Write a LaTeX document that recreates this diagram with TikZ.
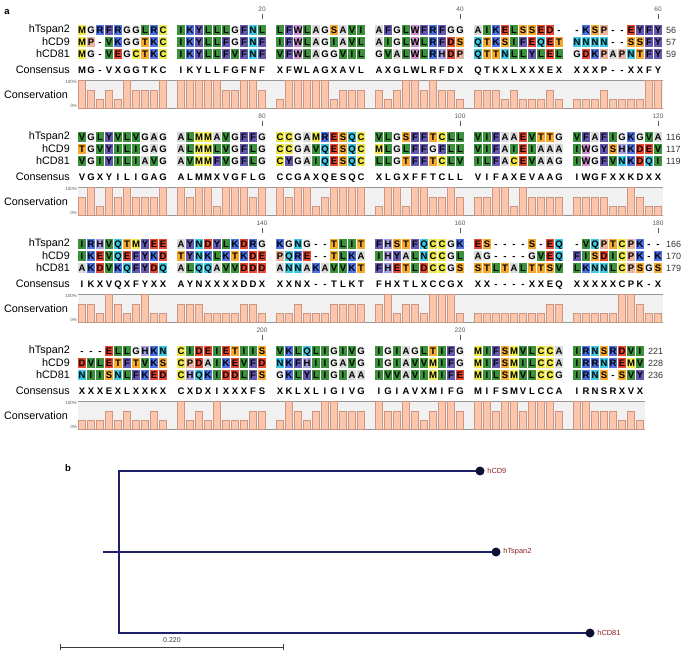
\documentclass[tikz,border=0pt]{standalone}
\usepackage{fontspec}
\setmainfont{Liberation Sans}
\usepackage{xstring}
\usetikzlibrary{positioning}

% residue colours (faded RasMol scheme)
\definecolor{resI}{RGB}{60,145,60}\colorlet{resL}{resI}\colorlet{resV}{resI}
\definecolor{resF}{RGB}{100,88,175}\colorlet{resY}{resF}
\definecolor{resK}{RGB}{80,115,225}\colorlet{resR}{resK}
\definecolor{resD}{RGB}{228,72,48}\colorlet{resE}{resD}
\definecolor{resS}{RGB}{245,170,45}\colorlet{resT}{resS}
\definecolor{resC}{RGB}{238,232,70}\colorlet{resM}{resC}
\definecolor{resN}{RGB}{60,200,225}\colorlet{resQ}{resN}
\definecolor{resW}{RGB}{200,140,200}
\definecolor{resP}{RGB}{232,180,160}
\definecolor{resH}{RGB}{165,160,220}
\definecolor{resA}{RGB}{218,218,218}
\definecolor{resG}{RGB}{240,240,240}
\definecolor{barfill}{RGB}{252,198,172}
\definecolor{bardraw}{RGB}{205,150,130}
\definecolor{bandgray}{RGB}{241,241,241}
\definecolor{bandedge}{RGB}{150,150,150}
\definecolor{rulergray}{RGB}{90,90,90}
\definecolor{numgray}{RGB}{50,50,50}
\definecolor{treeblue}{RGB}{32,32,105}
\definecolor{leafdot}{RGB}{12,16,52}
\definecolor{leafred}{RGB}{140,32,32}
\definecolor{scalegray}{RGB}{60,60,60}

% one coloured residue: x, y, letter, node name
\newcommand{\rescell}[4]{%
  \if#3-\else
    \edef\rescol{res#3}%
    \fill[fill=\rescol] (#1-4.15,#2-5.2) rectangle (#1+4.15,#2+5.2);
  \fi
  \node[resletter] (#4) at (#1,#2) {#3};
}

% one alignment block: top, columns, hTspan2, hCD9, hCD81, consensus, ruler, end numbers, id
\newcommand{\alnblock}[9]{%
  \pgfmathsetmacro\lastx{82+9*(#2-1+floor((#2-1)/10))}
  \node[seqname] (tsp#9) at (70,#1+21) {hTspan2};
  \node[seqname] (cdn#9) at (70,#1+33) {hCD9};
  \node[seqname] (cde#9) at (70,#1+45) {hCD81};
  \node[seqname] (csn#9) at (70,#1+61) {Consensus};
  \node[seqname] (csv#9) at (68,#1+86) {Conservation};
  % conservation band
  \fill[bandgray] (77.5,#1+71) rectangle (\lastx+4.5,#1+99);
  \draw[bandline] (77.5,#1+71) -- (\lastx+4.5,#1+71);
  \draw[bandline] (77.5,#1+99) -- (\lastx+4.5,#1+99);
  \node[pctlabel, anchor=north east] (hi#9) at (77,#1+71.5) {100\%};
  \node[pctlabel, anchor=south east] (lo#9) at (77,#1+98.5) {0\%};
  % ruler
  \foreach \tc/\tl in {#7}{
    \pgfmathsetmacro\tx{82+9*(\tc-1+floor((\tc-1)/10))}
    \draw[ruler] (\tx,#1+5) -- (\tx,#1+10);
    \node[rulerlabel] (tk#9-\tc) at (\tx,#1) {\tl};
  }
  % residues, consensus and bars
  \foreach \c in {1,...,#2}{
    \pgfmathsetmacro\cx{82+9*(\c-1+floor((\c-1)/10))}
    \StrChar{#3}{\c}[\rT]
    \StrChar{#4}{\c}[\rA]
    \StrChar{#5}{\c}[\rB]
    \StrChar{#6}{\c}[\rC]
    \rescell{\cx}{#1+21}{\rT}{r#9t\c}
    \rescell{\cx}{#1+33}{\rA}{r#9a\c}
    \rescell{\cx}{#1+45}{\rB}{r#9b\c}
    \node[resletter] (r#9c\c) at (\cx,#1+61) {\rC};
    \def\barh{0.3}
    \if\rC X\else\if\rC-\else
      \def\barh{0.62}
      \if\rT\rC\if\rA\rC\if\rB\rC\def\barh{1}\fi\fi\fi
    \fi\fi
    \draw[consbar] (\cx-3.5,#1+99) rectangle (\cx+3.5,#1+99-28*\barh);
  }
  % sequence lengths
  \foreach \n [count=\i] in {#8}{
    \node[endnum] (len#9-\i) at (\lastx+8,#1+9+12*\i) {\n};
  }
}

\begin{document}
\begin{tikzpicture}[x=1bp, y=-1bp,
    resletter/.style={font=\fontsize{9.5bp}{10bp}\selectfont\bfseries, inner sep=0pt, text height=6.8bp, text depth=0pt},
    seqname/.style={font=\fontsize{10.8bp}{12bp}\selectfont, inner sep=0pt, anchor=east},
    pctlabel/.style={font=\fontsize{4.5bp}{5bp}\selectfont, text=rulergray, inner sep=0pt},
    rulerlabel/.style={font=\fontsize{6.5bp}{7bp}\selectfont, text=rulergray, inner sep=0pt},
    ruler/.style={draw=rulergray, line width=0.6bp},
    endnum/.style={font=\fontsize{9bp}{10bp}\selectfont, text=numgray, inner sep=0pt, anchor=west},
    bandline/.style={draw=bandedge, line width=0.7bp},
    consbar/.style={fill=barfill, draw=bardraw, line width=0.5bp},
    panel/.style={font=\fontsize{9.5bp}{10bp}\selectfont\bfseries, inner sep=0pt},
    branch/.style={draw=treeblue, line width=2bp},
    leaf/.style={circle, fill=leafdot, inner sep=0pt, minimum size=9bp},
    leaflabel/.style={font=\fontsize{7.4bp}{8bp}\selectfont, text=leafred, inner sep=1bp},
    scalebar/.style={draw=scalegray, line width=0.7bp},
    scalelabel/.style={font=\fontsize{7bp}{8bp}\selectfont, text=scalegray, inner sep=0pt}
]
    \useasboundingbox (0,0) rectangle (690,650);

    % Panel a: alignment
    \node[panel] (pa) at (7,12) {a};
    \alnblock{9}{60}%
      {MGRFRGGLRCIKYLLLGFNLLFWLAGSAVIAFGLWFRFGGAIKELSSED--KSP--EYFY}%
      {MP-VKGGTKCIKYLLFGFNFIFWLAGIAVLAIGLWLRFDSQTKSIFEQETNNNN--SSFY}%
      {MG-VEGCTKCIKYLLFVFNFVFWLAGGVILGVALWLRHDPQTTNLLYLELGDKPAPNTFY}%
      {MG-VXGGTKCIKYLLFGFNFXFWLAGXAVLAXGLWLRFDXQTKXLXXXEXXXXP--XXFY}%
      {20/20,40/40,60/60}{56,57,59}{1}
    \alnblock{116}{60}%
      {VGLYVLVGAGALMMAVGFFGCCGAMRESQCVLGSFFTCLLVIFAAEVTTGVFAFIGKGVA}%
      {TGVYILIGAGALMMLVGFLGCCGAVQESQCMLGLFFGFLLVIFAIEIAAAIWGYSHKDEV}%
      {VGIYILIAVGAVMMFVGFLGCYGAIQESQCLLGTFFTCLVILFACEVAAGIWGFVNKDQI}%
      {VGXYILIGAGALMMXVGFLGCCGAXQESQCXLGXFFTCLLVIFAXEVAAGIWGFXXKDXX}%
      {20/80,40/100,60/120}{116,117,119}{2}
    \alnblock{223}{60}%
      {IRHVQTMYEEAYNDYLKDRGKGNG--TLITFHSTFQCCGKES----S-EQ-VQPTCPK--}%
      {IKEVQEFYKDTYNKLKTKDEPQRE--TLKAIHYALNCCGLAG----GVEQFISDICPK-K}%
      {AKDVKQFYDQALQQAVVDDDANNAKAVVKTFHETLDCCGSSTLTALTTSVLKNNLCPSGS}%
      {IKXVQXFYXXAYNXXXXDDXXXNX--TLKTFHXTLXCCGXXX----XXEQXXXXXCPK-X}%
      {20/140,40/160,60/180}{166,170,179}{3}
    \alnblock{330}{58}%
      {---ELLGHKNCIDEIETIISVKLQLIGIVGIGIAGLTIFGMIFSMVLCCAIRNSRDVI}%
      {DVLETFTVKSCPDAIKEVFDNKFHIIGAVGIGIAVVMIFGMIFSMILCCAIRRNREMV}%
      {NIISNLFKEDCHQKIDDLFSGKLYLIGIAAIVVAVIMIFEMILSMVLCCGIRNS-SVY}%
      {XXXEXLXXKXCXDXIXXXFSXKLXLIGIVGIGIAVXMIFGMIFSMVLCCAIRNSRXVX}%
      {20/200,40/220}{221,228,236}{4}

    % Panel b: tree
    \node[panel] (pb) at (68,468) {b};
    \coordinate (root) at (103,552);
    \coordinate (fork) at (119,552);
    \coordinate (cd9) at (480,471);
    \coordinate (tsp2) at (496,552);
    \coordinate (cd81) at (590,633);
    \draw[branch] (root) -- (tsp2);
    \draw[branch] (cd9) -| (fork) |- (cd81);
    \node[leaf] (cd9dot) at (cd9) {};
    \node[leaf] (tsp2dot) at (tsp2) {};
    \node[leaf] (cd81dot) at (cd81) {};
    \node[leaflabel, right=1.5bp of cd9dot] (cd9lab) {hCD9};
    \node[leaflabel, right=1.5bp of tsp2dot] (tsp2lab) {hTspan2};
    \node[leaflabel, right=1.5bp of cd81dot] (cd81lab) {hCD81};

    % Scale
    \coordinate (sbleft) at (60,647);
    \coordinate (sbright) at (283,647);
    \draw[scalebar] (sbleft) -- (sbright);
    \draw[scalebar] ([yshift=3bp]sbleft) -- ([yshift=-3bp]sbleft);
    \draw[scalebar] ([yshift=3bp]sbright) -- ([yshift=-3bp]sbright);
    \node[scalelabel] (sblab) at (172,640) {0.220};
\end{tikzpicture}
\end{document}
